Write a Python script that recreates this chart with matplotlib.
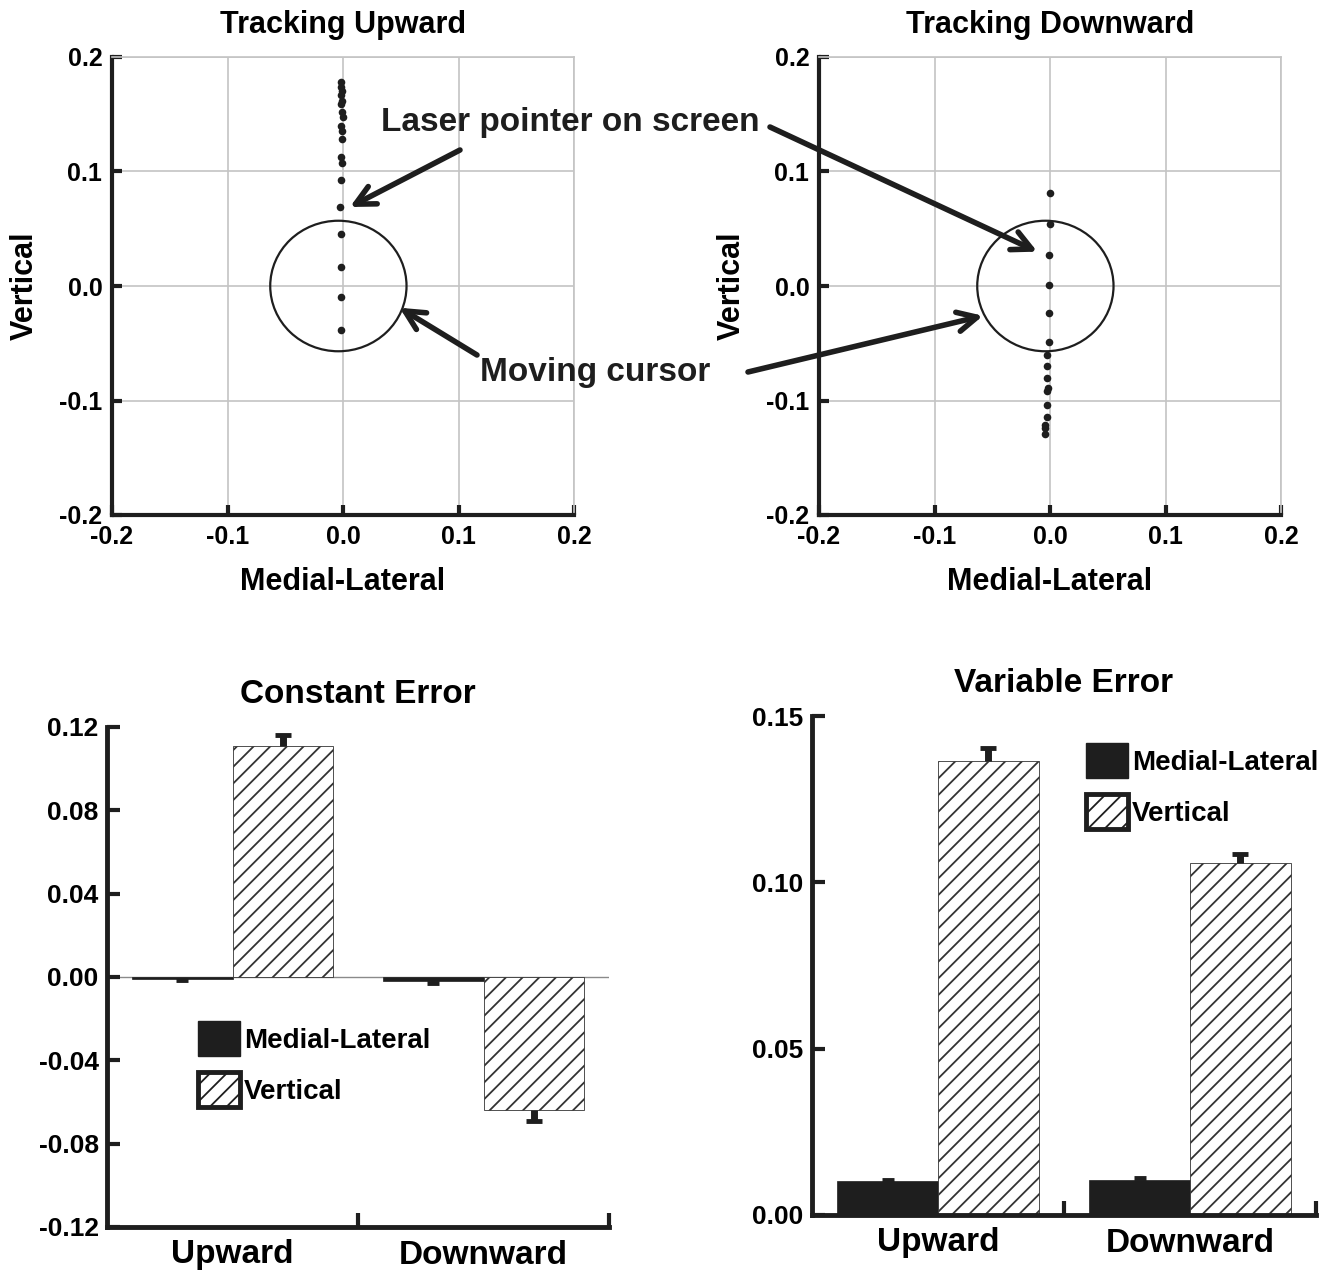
'''Tracking error figure: cursor traces and constant/variable error bars.'''
import matplotlib
matplotlib.use('Agg')
import matplotlib.pyplot as plt
from matplotlib.patches import Ellipse, Patch
import numpy as np

plt.rcParams['font.family'] = ['Liberation Sans', 'DejaVu Sans']
plt.rcParams['font.weight'] = 'bold'
plt.rcParams['hatch.linewidth'] = 1.3

DARK = '#1e1e1e'
GRID = '#c4c4c4'
HATCH = '//'

# laser pointer positions (medial-lateral, vertical)
up_ml = [-0.002, -0.002, -0.001, -0.002, -0.001, -0.002, -0.001, 0.000, -0.002, -0.001,
         -0.001, -0.002, -0.001, -0.002, -0.003, -0.002, -0.002, -0.002, -0.002]
up_vert = [0.178, 0.174, 0.170, 0.167, 0.162, 0.159, 0.152, 0.148, 0.140, 0.135,
           0.128, 0.113, 0.107, 0.093, 0.069, 0.045, 0.017, -0.010, -0.038]
down_ml = [0.000, 0.000, -0.001, -0.001, -0.001, -0.001, -0.003, -0.003, -0.003, -0.002,
           -0.003, -0.003, -0.003, -0.004, -0.004, -0.004]
down_vert = [0.081, 0.054, 0.027, 0.001, -0.024, -0.049, -0.060, -0.070, -0.080, -0.089,
             -0.092, -0.104, -0.114, -0.121, -0.124, -0.129]
cursor_center = (-0.004, 0.0)
cursor_size = (0.118, 0.114)

# error summaries
groups = ['Upward', 'Downward']
const_ml = [-0.001, -0.002]
const_ml_err = [0.0006, 0.001]
const_vert = [0.111, -0.064]
const_vert_err = [0.005, 0.005]
var_ml = [0.0102, 0.0106]
var_ml_err = [0.0004, 0.0004]
var_vert = [0.1365, 0.1058]
var_vert_err = [0.004, 0.0027]

W, H = 1331, 1271
fig = plt.figure(figsize=(W / 100, H / 100), dpi=100)


def box(left, top, right, bottom):
    return [left / W, 1 - bottom / H, (right - left) / W, (bottom - top) / H]


def style_track(ax, title, xs, ys):
    ax.scatter(xs, ys, s=30, color=DARK, zorder=3, linewidths=0)
    ax.add_patch(Ellipse(cursor_center, cursor_size[0], cursor_size[1],
                         fill=False, lw=1.6, color=DARK, zorder=3))
    ax.set_xlim(-0.2, 0.2)
    ax.set_ylim(-0.2, 0.2)
    ticks = [-0.2, -0.1, 0.0, 0.1, 0.2]
    ax.set_xticks(ticks)
    ax.set_yticks(ticks)
    ax.set_xticklabels(['%.1f' % t for t in ticks])
    ax.set_yticklabels(['%.1f' % t for t in ticks])
    ax.grid(True, color=GRID, lw=1.2)
    ax.set_axisbelow(True)
    for side in ['left', 'bottom']:
        ax.spines[side].set_linewidth(3)
        ax.spines[side].set_color(DARK)
    for side in ['top', 'right']:
        ax.spines[side].set_linewidth(1.2)
        ax.spines[side].set_color(GRID)
    ax.tick_params(direction='in', length=7, width=3, color=DARK,
                   labelsize=18, pad=7, top=False, right=False)
    ax.set_title(title, fontsize=22, fontweight='bold', pad=17)
    ax.set_xlabel('Medial-Lateral', fontsize=22, fontweight='bold', labelpad=13)
    ax.set_ylabel('Vertical', fontsize=22, fontweight='bold', labelpad=14)


def one_sided(ax, xs, vals, errs, lw, cap):
    # error bar drawn only away from zero, with a single cap
    ends = [v + e if v >= 0 else v - e for v, e in zip(vals, errs)]
    ax.vlines(xs, vals, ends, color=DARK, lw=lw, zorder=3)
    ax.plot(xs, ends, ls='none', marker='_', ms=cap, mew=3.5, color=DARK, zorder=3)


def style_bars(ax, title, ml, ml_err, vert, vert_err, ylim, yticks):
    x = np.arange(len(groups))
    w = 0.4
    ax.bar(x - w / 2, ml, w, color=DARK, edgecolor=DARK, lw=0.5, zorder=2)
    ax.bar(x + w / 2, vert, w, color='white', edgecolor='#333333', hatch=HATCH,
           lw=0.6, zorder=2)
    one_sided(ax, x - w / 2, ml, ml_err, 3, 9)
    one_sided(ax, x + w / 2, vert, vert_err, 5, 11)
    ax.set_xlim(-0.5, 1.5)
    ax.set_ylim(*ylim)
    ax.set_yticks(yticks)
    ax.set_xticks(x)
    ax.set_xticklabels(groups)
    ax.set_xticks([0.5, 1.5], minor=True)
    for side in ['top', 'right']:
        ax.spines[side].set_visible(False)
    for side in ['left', 'bottom']:
        ax.spines[side].set_linewidth(3.5)
        ax.spines[side].set_color(DARK)
    ax.tick_params(axis='y', direction='in', length=9, width=3, color=DARK,
                   labelsize=19, pad=6)
    ax.tick_params(axis='x', which='major', length=0, labelsize=24, pad=9)
    ax.tick_params(axis='x', which='minor', direction='in', length=10, width=3,
                   color=DARK)
    ax.set_title(title, fontsize=24, fontweight='bold', pad=17)


ax1 = fig.add_axes(box(112, 57, 574, 515))
ax2 = fig.add_axes(box(819, 57, 1281, 515))
style_track(ax1, 'Tracking Upward', up_ml, up_vert)
style_track(ax2, 'Tracking Downward', down_ml, down_vert)

ax3 = fig.add_axes(box(107, 727, 609, 1227))
ax4 = fig.add_axes(box(812, 716, 1316, 1215))
style_bars(ax3, 'Constant Error', const_ml, const_ml_err, const_vert, const_vert_err,
           (-0.12, 0.12), [-0.12, -0.08, -0.04, 0.0, 0.04, 0.08, 0.12])
ax3.axhline(0, color='#8a8a8a', lw=1, zorder=1)
ax3.set_yticklabels(['%.2f' % t for t in ax3.get_yticks()])
style_bars(ax4, 'Variable Error', var_ml, var_ml_err, var_vert, var_vert_err,
           (0, 0.15), [0.0, 0.05, 0.10, 0.15])
ax4.set_yticklabels(['%.2f' % t for t in ax4.get_yticks()])

# annotations
fig.text(381 / W, 1 - 122 / H, 'Laser pointer on screen', fontsize=24,
         fontweight='bold', va='center', ha='left', color=DARK)
fig.text(480 / W, 1 - 372 / H, 'Moving cursor', fontsize=24,
         fontweight='bold', va='center', ha='left', color=DARK)
arrow = dict(arrowstyle='->,head_length=0.7,head_width=0.35', lw=4, color=DARK,
             mutation_scale=20, shrinkA=0, shrinkB=0)
ax1.annotate('', xy=(0.006, 0.069), xytext=(460 / W, 1 - 150 / H),
             textcoords='figure fraction', arrowprops=arrow, annotation_clip=False)
ax1.annotate('', xy=(0.049, -0.019), xytext=(477 / W, 1 - 355 / H),
             textcoords='figure fraction', arrowprops=arrow, annotation_clip=False)
ax2.annotate('', xy=(-0.011, 0.030), xytext=(770 / W, 1 - 127 / H),
             textcoords='figure fraction', arrowprops=arrow, annotation_clip=False)
ax2.annotate('', xy=(-0.058, -0.026), xytext=(748 / W, 1 - 372 / H),
             textcoords='figure fraction', arrowprops=arrow, annotation_clip=False)

# legends
handles = [Patch(facecolor=DARK, edgecolor=DARK, lw=1),
           Patch(facecolor='white', edgecolor=DARK, hatch=HATCH, lw=3.5)]
labels = ['Medial-Lateral', 'Vertical']
for ax, (lx, ly) in [(ax3, (198, 1021)), (ax4, (1086, 743))]:
    ax.legend(handles, labels, loc='upper left', bbox_to_anchor=(lx / W, 1 - ly / H),
              bbox_transform=fig.transFigure, frameon=False, borderpad=0,
              borderaxespad=0, handlelength=1.5, handleheight=1.55,
              handletextpad=0.15, labelspacing=0.6,
              prop={'size': 20, 'weight': 'bold'})

fig.savefig('out.png', dpi=100, facecolor='white')
